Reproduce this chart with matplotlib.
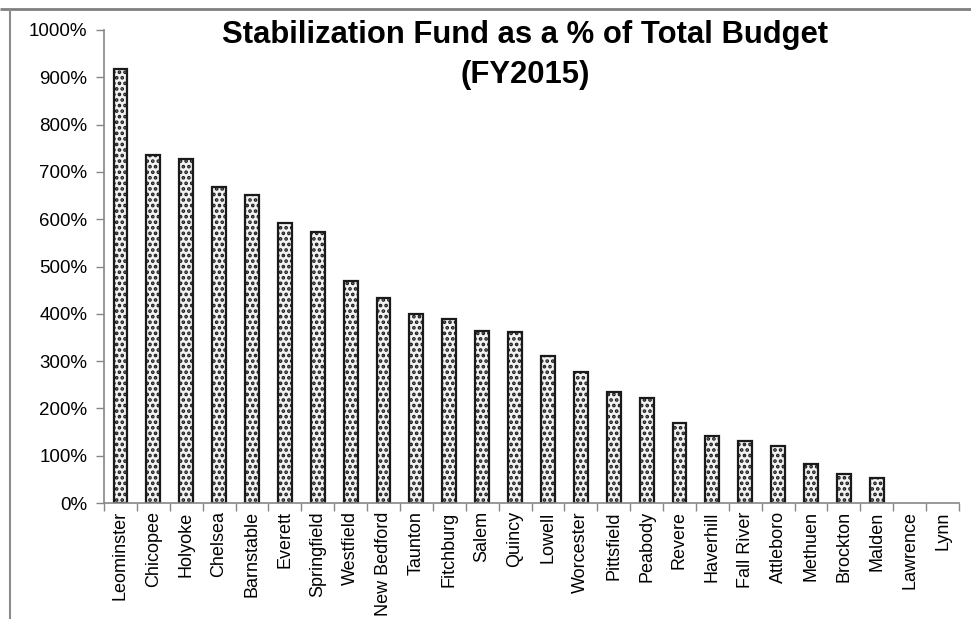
import matplotlib
matplotlib.use("Agg")
import matplotlib.pyplot as plt
from matplotlib.lines import Line2D
from matplotlib.ticker import FuncFormatter, MultipleLocator

plt.rcParams['font.family'] = ['Liberation Sans', 'DejaVu Sans']
plt.rcParams['hatch.linewidth'] = 1.8

# data
cities = ['Leominster', 'Chicopee', 'Holyoke', 'Chelsea', 'Barnstable', 'Everett',
          'Springfield', 'Westfield', 'New Bedford', 'Taunton', 'Fitchburg', 'Salem',
          'Quincy', 'Lowell', 'Worcester', 'Pittsfield', 'Peabody', 'Revere',
          'Haverhill', 'Fall River', 'Attleboro', 'Methuen', 'Brockton', 'Malden',
          'Lawrence', 'Lynn']
fund_pct = [917, 736, 727, 669, 651, 593, 572, 470, 434, 400, 388, 364, 361, 311,
            278, 235, 223, 170, 142, 131, 120, 82, 62, 52, 0, 0]

W, H = 971, 619
fig = plt.figure(figsize=(W / 100, H / 100), dpi=100)

# chart-area border (only top and left edges show in the crop)
top = 1 - 9 / H
left = 9.5 / W
fig.add_artist(Line2D([0.0, 1.0], [top, top], transform=fig.transFigure,
                      color='#808080', linewidth=2, solid_capstyle='butt', zorder=5))
fig.add_artist(Line2D([left, left], [0.0, top], transform=fig.transFigure,
                      color='#8c8c8c', linewidth=1.5, zorder=5))

ax = fig.add_axes([104 / W, 1 - 503 / H, (959 - 104) / W, (503 - 30) / H])

x = range(len(cities))
ax.bar(x, fund_pct, width=0.42, facecolor='#f2f2f2', edgecolor='#1a1a1a',
       linewidth=[1.6 if v > 0 else 0 for v in fund_pct], hatch='...', zorder=2)

ax.set_xlim(-0.5, len(cities) - 0.5)
ax.set_ylim(0, 1000)
ax.yaxis.set_major_locator(MultipleLocator(100))
ax.yaxis.set_major_formatter(FuncFormatter(lambda v, p: f'{v:.0f}%'))

ax.set_xticks(list(x))
ax.set_xticklabels(cities, rotation=90, fontsize=13)
ax.set_xticks([i - 0.5 for i in range(len(cities) + 1)], minor=True)
ax.tick_params(axis='x', which='major', length=0, pad=6)
ax.tick_params(axis='x', which='minor', length=6, color='#868686', width=1)
ax.tick_params(axis='y', length=6, color='#868686', width=1, labelsize=13.5, pad=6)

for side in ['top', 'right']:
    ax.spines[side].set_visible(False)
for side in ['left', 'bottom']:
    ax.spines[side].set_color('#868686')
    ax.spines[side].set_linewidth(1.2)

fig.text(525 / W, 1 - 55 / H, 'Stabilization Fund as a % of Total Budget\n(FY2015)',
         ha='center', va='center', fontsize=22.3, fontweight='bold', linespacing=1.42)

fig.savefig('out.png', dpi=100)
